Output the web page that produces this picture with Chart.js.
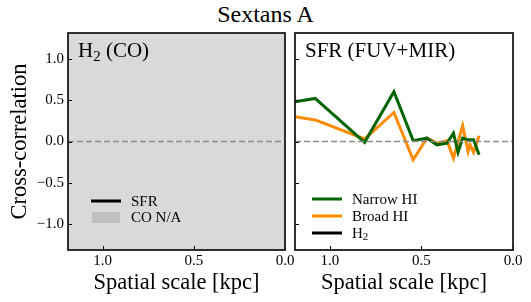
<!DOCTYPE html>
<html>
<head>
<meta charset="utf-8">
<title>Sextans A</title>
<script src="https://cdn.jsdelivr.net/npm/chart.js@4/dist/chart.umd.min.js"></script>
<style>
  body {
    margin: 0;
    width: 531px;
    height: 302px;
    position: relative;
    overflow: hidden;
    background: #fff;
    font-family: "Liberation Serif", serif;
  }
  #title {
    position: absolute;
    left: 0;
    top: 2px;
    width: 531px;
    text-align: center;
    font-size: 24px;
    line-height: 24px;
  }
  .panel { position: absolute; top: 0; }
</style>
</head>
<body>
  <div id="title">Sextans A</div>
  <div class="panel" style="left: 0"><canvas id="left_panel" width="300" height="302"></canvas></div>
  <div class="panel" style="left: 290px"><canvas id="right_panel" width="241" height="302"></canvas></div>

  <script>
    // axis ticks
    const xTicks = [1.0, 0.5, 0.0];
    const yTicks = [-1.0, -0.5, 0.0, 0.5, 1.0];
    const xMax = 1.19;
    const yLim = 1.31;

    // SFR (FUV+MIR) vs narrow HI
    const narrowScale = [1.19, 1.08, 0.81, 0.65, 0.545, 0.47, 0.415, 0.36, 0.325, 0.30, 0.275, 0.245, 0.215, 0.185];
    const narrowHI = [0.48, 0.52, -0.01, 0.60, 0.01, 0.04, -0.04, -0.02, 0.10, -0.13, 0.04, 0.02, 0.02, -0.16];

    // SFR (FUV+MIR) vs broad HI
    const broadScale = [1.19, 1.08, 0.81, 0.65, 0.545, 0.47, 0.415, 0.36, 0.325, 0.275, 0.245, 0.235, 0.215, 0.185];
    const broadHI = [0.30, 0.26, 0.03, 0.35, -0.22, 0.04, -0.02, 0.01, -0.20, 0.19, -0.12, -0.04, -0.13, 0.07];

    // zero reference line
    const zeroScale = [1.19, 0.0];
    const zeroLine = [0, 0];

    const FONT = '"Liberation Serif", serif';

    function points(xs, ys) {
      return xs.map((x, i) => ({x, y: ys[i]}));
    }

    function fmt(v) {
      return v < 0 ? '\u2212' + Math.abs(v).toFixed(1) : v.toFixed(1);
    }

    // text pieces: plain strings, or {sub: '2'} for subscripts
    function drawRich(ctx, parts, x, y, size) {
      parts.forEach(p => {
        if (typeof p === 'string') {
          ctx.font = `${size}px ${FONT}`;
          ctx.fillText(p, x, y);
          x += ctx.measureText(p).width;
        } else {
          ctx.font = `${Math.round(size * 0.7)}px ${FONT}`;
          ctx.fillText(p.sub, x, y + size * 0.2);
          x += ctx.measureText(p.sub).width;
        }
      });
    }

    const panelDecor = {
      id: 'panelDecor',
      beforeDraw(chart, args, opts) {
        const {ctx, chartArea: a} = chart;
        if (opts.bg) {
          ctx.save();
          ctx.fillStyle = opts.bg;
          ctx.fillRect(a.left, a.top, a.right - a.left, a.bottom - a.top);
          ctx.restore();
        }
      },
      afterDraw(chart, args, opts) {
        const {ctx, chartArea: a, scales: {x, y}} = chart;
        ctx.save();

        // inward ticks
        ctx.strokeStyle = '#000';
        ctx.lineWidth = 1;
        xTicks.forEach(v => {
          const px = Math.round(x.getPixelForValue(v)) + 0.5;
          ctx.beginPath();
          ctx.moveTo(px, a.bottom);
          ctx.lineTo(px, a.bottom - 4);
          ctx.stroke();
        });
        yTicks.forEach(v => {
          const py = Math.round(y.getPixelForValue(v)) + 0.5;
          ctx.beginPath();
          ctx.moveTo(a.left, py);
          ctx.lineTo(a.left + 4, py);
          ctx.stroke();
        });

        // frame
        ctx.strokeStyle = '#1a1a1a';
        ctx.lineWidth = 1.8;
        ctx.strokeRect(a.left, a.top, a.right - a.left, a.bottom - a.top);

        // panel label
        ctx.fillStyle = '#000';
        ctx.textBaseline = 'alphabetic';
        drawRich(ctx, opts.label, a.left + 10, a.top + 24, 21);

        // legend
        opts.legend.forEach((item, i) => {
          const cy = opts.legendY + i * opts.legendGap;
          if (item.patch) {
            ctx.fillStyle = item.color;
            ctx.fillRect(opts.lineX + 1, cy - 5.5, 28, 11);
          } else {
            ctx.strokeStyle = item.color;
            ctx.lineWidth = 3;
            ctx.beginPath();
            ctx.moveTo(opts.lineX, cy);
            ctx.lineTo(opts.lineX + 30, cy);
            ctx.stroke();
          }
          ctx.fillStyle = '#000';
          ctx.textBaseline = 'middle';
          drawRich(ctx, item.text, opts.textX, cy + 1, 15);
        });

        ctx.restore();
      }
    };

    function scalesFor(showY) {
      return {
        x: {
          type: 'linear',
          reverse: true,
          min: 0,
          max: xMax,
          afterBuildTicks: s => { s.ticks = xTicks.map(v => ({value: v})); },
          afterFit: s => { s.height = 52; },
          grid: {display: false, drawTicks: false},
          border: {display: false},
          ticks: {
            padding: 2, color: '#000', autoSkip: false, maxRotation: 0,
            font: {family: FONT, size: 15},
            callback: v => fmt(v)
          },
          title: {
            display: true, text: 'Spatial scale [kpc]', color: '#000',
            font: {family: FONT, size: 22.5}, padding: 5
          }
        },
        y: {
          type: 'linear',
          display: showY,
          min: -yLim,
          max: yLim,
          afterBuildTicks: s => { s.ticks = yTicks.map(v => ({value: v})); },
          afterFit: s => { s.width = showY ? 68 : 0; },
          grid: {display: false, drawTicks: false},
          border: {display: false},
          ticks: {
            padding: 4, color: '#000', autoSkip: false,
            font: {family: FONT, size: 15},
            callback: v => fmt(v)
          },
          title: {
            display: true, text: 'Cross-correlation', color: '#000',
            font: {family: FONT, size: 22.5}, padding: 7
          }
        }
      };
    }

    const zeroSet = {
      data: points(zeroScale, zeroLine),
      borderColor: '#8c8c8c',
      borderWidth: 1.5,
      borderDash: [6, 3],
      pointRadius: 0
    };

    // H2 (CO) panel: no CO data
    new Chart(document.getElementById('left_panel'), {
      type: 'line',
      data: {datasets: [zeroSet]},
      options: {
        responsive: false,
        animation: false,
        layout: {padding: {top: 33, right: 15, left: 0, bottom: 0}},
        scales: scalesFor(true),
        plugins: {
          legend: {display: false},
          tooltip: {enabled: false},
          panelDecor: {
            bg: '#d9d9d9',
            label: ['H', {sub: '2'}, ' (CO)'],
            lineX: 91, textX: 131, legendY: 201, legendGap: 16.5,
            legend: [
              {text: ['SFR'], color: '#000'},
              {text: ['CO N/A'], color: '#bfbfbf', patch: true}
            ]
          }
        }
      },
      plugins: [panelDecor]
    });

    // SFR (FUV+MIR) panel
    new Chart(document.getElementById('right_panel'), {
      type: 'line',
      data: {
        datasets: [
          zeroSet,
          {
            data: points(narrowScale, narrowHI),
            borderColor: '#006400',
            borderWidth: 3,
            pointRadius: 0,
            tension: 0
          },
          {
            data: points(broadScale, broadHI),
            borderColor: '#ff8c00',
            borderWidth: 3,
            pointRadius: 0,
            tension: 0
          }
        ]
      },
      options: {
        responsive: false,
        animation: false,
        layout: {padding: {top: 33, right: 18, left: 5, bottom: 0}},
        scales: scalesFor(false),
        plugins: {
          legend: {display: false},
          tooltip: {enabled: false},
          panelDecor: {
            label: ['SFR (FUV+MIR)'],
            lineX: 22, textX: 62, legendY: 199, legendGap: 17,
            legend: [
              {text: ['Narrow HI'], color: '#006400'},
              {text: ['Broad HI'], color: '#ff8c00'},
              {text: ['H', {sub: '2'}], color: '#000'}
            ]
          }
        }
      },
      plugins: [panelDecor]
    });
  </script>
</body>
</html>
